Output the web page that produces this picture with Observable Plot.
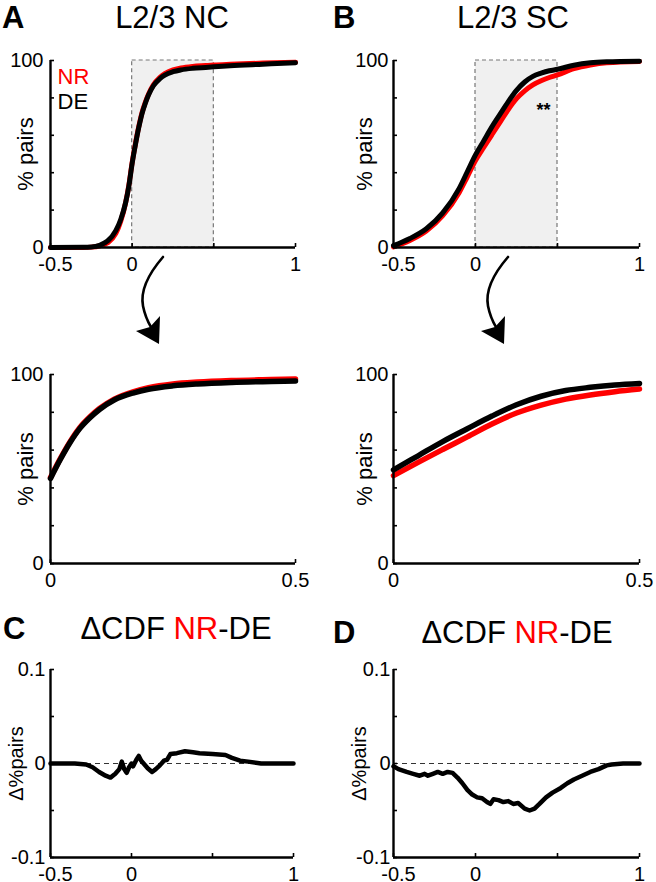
<!DOCTYPE html>
<html><head><meta charset="utf-8">
<script src="https://cdn.jsdelivr.net/npm/d3@7"></script>
<script src="https://cdn.jsdelivr.net/npm/@observablehq/plot@0.6"></script>
<style>
html,body{margin:0;padding:0;background:#fff;overflow:hidden}
#fig{position:relative;width:656px;height:882px;font-family:"Liberation Sans",Arial,sans-serif;color:#000;overflow:hidden}
.t{position:absolute;font-size:31px;line-height:1;white-space:nowrap;transform:translate(-50%,-50%)}
.p{position:absolute;font-size:31px;font-weight:bold;line-height:1;transform:translateY(-50%)}
.red{color:#ff0000}
</style></head><body>
<div id="fig">
  <div class="p" style="left:2px;top:17px">A</div>
  <div class="t" style="left:172px;top:17px">L2/3 NC</div>
  <div class="p" style="left:333px;top:17px">B</div>
  <div class="t" style="left:513px;top:17px">L2/3 SC</div>
  <div class="p" style="left:3px;top:628px">C</div>
  <div class="t" style="left:176px;top:628px">ΔCDF <span class="red">NR</span>-DE</div>
  <div class="p" style="left:333px;top:632px">D</div>
  <div class="t" style="left:517px;top:632px">ΔCDF <span class="red">NR</span>-DE</div>
</div>
<script>
// ---------- data ----------
const seriesNames = ["NR", "DE"];
const seriesColors = ["#ff0000", "#000000"];
const fullRange = [-0.5, 1];
const zoomRange = [0, 0.5];
const pctDomain = [0, 100];
const deltaDomain = [-0.1, 0.1];
const fullTicks = [-0.5, 0, 0.5, 1];
const fullTickLabels = [-0.5, 0, 1];
const zoomTicks = [0, 0.5];
const zoomTickLabels = [0, 0.5];
const pctTicks = [0, 20, 40, 60, 80, 100];
const pctTickLabels = [0, 100];
const deltaTicks = [-0.1, -0.05, 0, 0.05, 0.1];
const deltaTickLabels = [-0.1, 0, 0.1];
const pctLabel = "% pairs";
const deltaLabel = "Δ%pairs";

// L2/3 noise correlation CDF (%)
const ncX  = [-0.5, -0.3, -0.25, -0.2, -0.15, -0.1, -0.07, -0.04, -0.02, 0, 0.02, 0.04, 0.06, 0.08, 0.1, 0.13, 0.17, 0.2, 0.25, 0.3, 0.37, 0.45, 0.5, 0.6, 0.8, 1.0];
const ncNR = [0, 0.05, 0.2, 0.8, 2.5, 7.5, 14, 24, 33.5, 45.5, 55.5, 64.5, 72, 77.5, 82, 87, 91, 93, 95, 96, 96.8, 97.3, 97.6, 98, 98.6, 99];
const ncDE = [0, 0.1, 0.3, 1.2, 3.5, 9, 15, 24, 33, 45, 55, 64, 71.5, 77, 81.5, 86.5, 90.3, 92.2, 94, 95, 95.8, 96.3, 96.6, 97.2, 98, 98.8];

// L2/3 signal correlation CDF (%)
const scX  = [-0.5, -0.45, -0.4, -0.3, -0.2, -0.1, -0.05, 0, 0.05, 0.1, 0.15, 0.2, 0.25, 0.3, 0.35, 0.4, 0.45, 0.5, 0.6, 0.7, 0.8, 1.0];
const scNR = [0.3, 1.9, 3.8, 8.8, 17, 29.3, 37.8, 46.5, 53.5, 60.3, 67, 73.8, 79.6, 83.8, 87, 89.2, 90.9, 92.3, 95.6, 97.6, 98.8, 99.5];
const scDE = [1, 2.8, 4.8, 10, 18.5, 31.5, 40.5, 49.5, 57, 64.5, 71.3, 78, 84, 88.5, 91.5, 93.2, 94.5, 95.3, 97.5, 98.8, 99.3, 99.6];

// Delta CDF NR-DE, noise correlation
const dNcX = [-0.5, -0.35, -0.28, -0.24, -0.2, -0.16, -0.13, -0.1, -0.075, -0.06, -0.045, -0.03, -0.015, 0, 0.01, 0.03, 0.045, 0.06, 0.08, 0.1, 0.127, 0.15, 0.175, 0.2, 0.22, 0.24, 0.28, 0.33, 0.38, 0.42, 0.5, 0.58, 0.62, 0.67, 0.72, 0.8, 0.9, 1];
const dNcY = [0, 0, -0.001, -0.004, -0.009, -0.013, -0.015, -0.011, -0.006, 0.002, -0.006, -0.01, -0.004, 0, -0.003, 0.004, 0.008, 0.003, -0.001, -0.005, -0.009, -0.006, -0.002, 0.003, 0.004, 0.01, 0.011, 0.013, 0.012, 0.011, 0.01, 0.009, 0.006, 0.003, 0.002, 0, 0, 0];

// Delta CDF NR-DE, signal correlation
const dScX = [-0.5, -0.47, -0.42, -0.38, -0.34, -0.31, -0.29, -0.26, -0.23, -0.2, -0.17, -0.14, -0.11, -0.08, -0.05, -0.02, 0.01, 0.04, 0.07, 0.09, 0.11, 0.14, 0.17, 0.2, 0.23, 0.26, 0.3, 0.33, 0.36, 0.39, 0.43, 0.47, 0.52, 0.56, 0.6, 0.65, 0.7, 0.75, 0.8, 0.83, 0.9, 1];
const dScY = [-0.003, -0.006, -0.009, -0.011, -0.013, -0.011, -0.013, -0.011, -0.009, -0.011, -0.009, -0.01, -0.015, -0.021, -0.028, -0.033, -0.036, -0.037, -0.041, -0.043, -0.038, -0.039, -0.041, -0.04, -0.043, -0.042, -0.048, -0.05, -0.048, -0.043, -0.036, -0.031, -0.026, -0.021, -0.017, -0.013, -0.009, -0.006, -0.002, -0.001, 0, 0];

// significance marker in panel B
const sigX = [0.415];
const sigY = [76];
const sigText = ["**"];

// ---------- helpers ----------
const fig = document.getElementById("fig");
const fmt = d => String(d);
const rows = (xs, ys) => xs.map((x, i) => ({x, y: ys[i]}));
const within = (arr, [a, b]) => arr.filter(d => d.x >= a && d.x <= b);

function panel({frame, xDomain, yDomain, xTicks, xLabels, yTicks, yLabels, yLabel, yLabelSize, yLabelDx, yPad, marks}) {
  const [l, t, r, b] = frame;
  const ML = 60, MT = 12, MR = 14, MB = 40;
  const W = r - l, H = b - t;
  const svg = Plot.plot({
    width: W + ML + MR, height: H + MT + MB,
    marginLeft: ML, marginTop: MT, marginRight: MR, marginBottom: MB,
    x: {domain: xDomain},
    y: {domain: yDomain},
    style: {fontFamily: "'Liberation Sans', Arial, sans-serif", fontSize: "20px", background: "transparent", color: "#000", overflow: "visible"},
    marks: [
      ...marks,
      Plot.ruleX([xDomain[0]], {stroke: "#000", strokeWidth: 2.4}),
      Plot.ruleY([yDomain[0]], {stroke: "#000", strokeWidth: 2.4}),
      Plot.tickX(xTicks, {x: d => d, insetTop: H - 4, stroke: "#000", strokeWidth: 1.6}),
      Plot.tickY(yTicks, {y: d => d, insetRight: W - 4, stroke: "#000", strokeWidth: 1.6}),
      Plot.axisX(xLabels.filter(d => d >= 0), {tickSize: 0, tickPadding: 9, tickFormat: fmt, label: null}),
      Plot.axisX(xLabels.filter(d => d < 0), {tickSize: 0, tickPadding: 9, tickFormat: fmt, label: null, dx: 5}),
      Plot.axisY(yLabels, {tickSize: 0, tickPadding: yPad, tickFormat: fmt, label: null}),
      Plot.text([yLabel], {frameAnchor: "left", text: d => d, rotate: -90, dx: yLabelDx, fontSize: yLabelSize, textAnchor: "middle"})
    ]
  });
  svg.style.position = "absolute";
  svg.style.left = (l - ML) + "px";
  svg.style.top = (t - MT) + "px";
  fig.appendChild(svg);
}

const ncNRrows = rows(ncX, ncNR), ncDErows = rows(ncX, ncDE);
const scNRrows = rows(scX, scNR), scDErows = rows(scX, scDE);
const shade = [{x1: zoomRange[0], x2: zoomRange[1], y1: pctDomain[0], y2: pctDomain[1]}];
const shadeMark = Plot.rect(shade, {x1: "x1", x2: "x2", y1: "y1", y2: "y2", fill: "#f0f0f0", stroke: "#777", strokeWidth: 1.2, strokeDasharray: "4,3"});
const cdfLines = (nr, de, w) => [
  Plot.line(nr, {x: "x", y: "y", stroke: seriesColors[0], strokeWidth: w, curve: "monotone-x"}),
  Plot.line(de, {x: "x", y: "y", stroke: seriesColors[1], strokeWidth: w, curve: "monotone-x"})
];

// A
panel({
  frame: [50, 60, 295, 247], xDomain: fullRange, yDomain: pctDomain,
  xTicks: fullTicks, xLabels: fullTickLabels, yTicks: pctTicks, yLabels: pctTickLabels,
  yLabel: pctLabel, yLabelSize: 22, yLabelDx: -25, yPad: 7,
  marks: [
    shadeMark,
    ...cdfLines(ncNRrows, ncDErows, 5),
    Plot.text([seriesNames[0]], {frameAnchor: "top-left", text: d => d, fill: seriesColors[0], dx: 7, dy: 8, fontSize: 22, textAnchor: "start"}),
    Plot.text([seriesNames[1]], {frameAnchor: "top-left", text: d => d, fill: seriesColors[1], dx: 7, dy: 33, fontSize: 22, textAnchor: "start"})
  ]
});
// B
panel({
  frame: [393, 60, 639, 247], xDomain: fullRange, yDomain: pctDomain,
  xTicks: fullTicks, xLabels: fullTickLabels, yTicks: pctTicks, yLabels: pctTickLabels,
  yLabel: pctLabel, yLabelSize: 22, yLabelDx: -29, yPad: 5,
  marks: [
    shadeMark,
    ...cdfLines(scNRrows, scDErows, 5),
    Plot.text(sigText, {x: (d, i) => sigX[i], y: (d, i) => sigY[i], text: d => d, fontSize: 18, fontWeight: "bold", dy: 5})
  ]
});
// A zoom
panel({
  frame: [50, 374, 295, 563], xDomain: zoomRange, yDomain: pctDomain,
  xTicks: zoomTicks, xLabels: zoomTickLabels, yTicks: pctTicks, yLabels: pctTickLabels,
  yLabel: pctLabel, yLabelSize: 22, yLabelDx: -25, yPad: 7,
  marks: cdfLines(within(ncNRrows, zoomRange), within(ncDErows, zoomRange), 5.5)
});
// B zoom
panel({
  frame: [393, 374, 639, 563], xDomain: zoomRange, yDomain: pctDomain,
  xTicks: zoomTicks, xLabels: zoomTickLabels, yTicks: pctTicks, yLabels: pctTickLabels,
  yLabel: pctLabel, yLabelSize: 22, yLabelDx: -29, yPad: 5,
  marks: cdfLines(within(scNRrows, zoomRange), within(scDErows, zoomRange), 5.5)
});
// C
panel({
  frame: [50, 669, 293, 857], xDomain: fullRange, yDomain: deltaDomain,
  xTicks: fullTicks, xLabels: fullTickLabels, yTicks: deltaTicks, yLabels: deltaTickLabels,
  yLabel: deltaLabel, yLabelSize: 20, yLabelDx: -34, yPad: 5,
  marks: [
    Plot.ruleY([0], {stroke: "#333", strokeWidth: 1.2, strokeDasharray: "5,4"}),
    Plot.line(rows(dNcX, dNcY), {x: "x", y: "y", stroke: "#000", strokeWidth: 4.5})
  ]
});
// D
panel({
  frame: [393, 669, 639, 857], xDomain: fullRange, yDomain: deltaDomain,
  xTicks: fullTicks, xLabels: fullTickLabels, yTicks: deltaTicks, yLabels: deltaTickLabels,
  yLabel: deltaLabel, yLabelSize: 20, yLabelDx: -34, yPad: 3,
  marks: [
    Plot.ruleY([0], {stroke: "#333", strokeWidth: 1.2, strokeDasharray: "5,4"}),
    Plot.line(rows(dScX, dScY), {x: "x", y: "y", stroke: "#000", strokeWidth: 4.5})
  ]
});

// curved arrows between top and middle rows (decorative annotation)
const ns = "http://www.w3.org/2000/svg";
const ov = document.createElementNS(ns, "svg");
ov.setAttribute("width", 656); ov.setAttribute("height", 882);
ov.style.position = "absolute"; ov.style.left = "0"; ov.style.top = "0"; ov.style.pointerEvents = "none";
[0, 345].forEach(dx => {
  const g = document.createElementNS(ns, "g");
  g.setAttribute("transform", `translate(${dx},0)`);
  g.innerHTML = `<path d="M163,257 C150,272 140,290 143,306 C145,316 148,322 151,327" fill="none" stroke="#000" stroke-width="2.6" stroke-linecap="round"/>
    <path d="M159,344 L136,331 L150,327 L160,316 Z" fill="#000"/>`;
  ov.appendChild(g);
});
fig.appendChild(ov);
</script>
</body></html>
